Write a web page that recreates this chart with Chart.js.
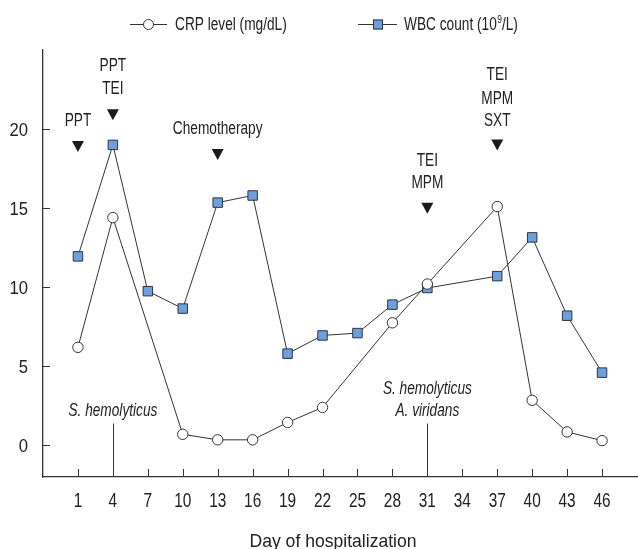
<!DOCTYPE html>
<html>
<head>
<meta charset="utf-8">
<script src="https://cdn.jsdelivr.net/npm/chart.js@4/dist/chart.umd.min.js"></script>
<style>
  html, body { margin: 0; padding: 0; background: #fff; }
  #wrap { width: 638px; height: 549px; }
</style>
</head>
<body>
<div id="wrap"><canvas id="c" width="638" height="549"></canvas></div>
<script>
// ---- data ----
const days = ['1','4','7','10','13','16','19','22','25','28','31','34','37','40','43','46'];
const crpLevel = [6.2, 14.4, null, 0.7, 0.35, 0.35, 1.45, 2.4, null, 7.75, 10.2, null, 15.1, 2.85, 0.85, 0.3];
const wbcCount = [11.95, 19.0, 9.75, 8.65, 15.35, 15.8, 5.8, 6.95, 7.1, 8.9, 9.95, null, 10.7, 13.15, 8.2, 4.6];
const yTickValues = [0, 5, 10, 15, 20];
const seriesNames = ['CRP level (mg/dL)', 'WBC count (10', '9', '/L)'];
const xTitle = 'Day of hospitalization';

// treatment annotations: category index, text lines, text y-values, triangle y-value
const treatIdx = [0, 1, 4, 10, 12];
const treatText = [['PPT'], ['PPT', 'TEI'], ['Chemotherapy'], ['TEI', 'MPM'], ['TEI', 'MPM', 'SXT']];
const treatTextY = [[20.6], [24.1, 22.6], [20.1], [18.1, 16.7], [23.5, 22.0, 20.6]];
const treatTriY = [18.9, 20.9, 18.4, 15.0, 19.0];

// culture annotations
const cultIdx = [1, 10];
const cultText = [['S. hemolyticus'], ['S. hemolyticus', 'A. viridans']];
const cultTextY = [[2.26], [3.65, 2.26]];
const cultLineTop = [1.38, 1.38];

const FONT = '"Liberation Sans", Arial, sans-serif';
const INK = '#333333';
const TXT = '#222222';
const BLUE = '#6f9fd9';

const toPts = arr => arr.map((v, i) => ({ x: i, y: v }));

// condensed text: cy = vertical centre of capitals
function ctext(ctx, str, x, cy, size, sx, align, italic) {
  ctx.save();
  ctx.font = (italic ? 'italic ' : '') + size + 'px ' + FONT;
  ctx.textAlign = align || 'center';
  ctx.textBaseline = 'alphabetic';
  ctx.translate(x, cy + size * 0.716 / 2);
  ctx.scale(sx, 1);
  ctx.fillText(str, 0, 0);
  const w = ctx.measureText(str).width * sx;
  ctx.restore();
  return w;
}

const decor = {
  id: 'decor',
  afterDatasetsDraw(chart) {
    const ctx = chart.ctx;
    const xs = chart.scales.x, ys = chart.scales.y;
    const area = chart.chartArea;
    ctx.save();
    ctx.fillStyle = TXT;
    // inward tick marks + tick labels
    ctx.strokeStyle = INK; ctx.lineWidth = 1;
    days.forEach((d, i) => {
      const px = Math.round(xs.getPixelForValue(i)) + 0.5;
      ctx.beginPath(); ctx.moveTo(px, area.bottom); ctx.lineTo(px, area.bottom - 8); ctx.stroke();
      ctext(ctx, d, xs.getPixelForValue(i), 500, 19.5, 0.79, 'center');
    });
    yTickValues.forEach(v => {
      const py = Math.round(ys.getPixelForValue(v)) + 0.5;
      ctx.beginPath(); ctx.moveTo(area.left, py); ctx.lineTo(area.left + 7, py); ctx.stroke();
      ctext(ctx, String(v), 28, ys.getPixelForValue(v), 18.5, 0.9, 'right');
    });
    // axis title
    ctext(ctx, xTitle, 333, 540, 18.5, 0.95, 'center');
    // treatment labels and triangles
    treatIdx.forEach((idx, k) => {
      const px = xs.getPixelForValue(idx);
      treatText[k].forEach((t, j) => ctext(ctx, t, px, ys.getPixelForValue(treatTextY[k][j]), 18, 0.76, 'center'));
      const ty = ys.getPixelForValue(treatTriY[k]);
      ctx.fillStyle = '#1a1a1a';
      ctx.beginPath();
      ctx.moveTo(px - 6, ty - 5.5); ctx.lineTo(px + 6, ty - 5.5); ctx.lineTo(px, ty + 5.5);
      ctx.closePath(); ctx.fill();
      ctx.fillStyle = TXT;
    });
    // culture labels and lines
    cultIdx.forEach((idx, k) => {
      const px = xs.getPixelForValue(idx);
      cultText[k].forEach((t, j) => ctext(ctx, t, px, ys.getPixelForValue(cultTextY[k][j]), 18, 0.76, 'center', true));
      const lx = Math.round(px) + 0.5;
      ctx.beginPath(); ctx.moveTo(lx, ys.getPixelForValue(cultLineTop[k])); ctx.lineTo(lx, area.bottom); ctx.stroke();
    });
    // legend
    const ly = 24.5;
    ctx.strokeStyle = INK; ctx.lineWidth = 1;
    ctx.beginPath(); ctx.moveTo(130, ly); ctx.lineTo(167, ly); ctx.stroke();
    ctx.beginPath(); ctx.arc(148.5, ly, 5, 0, Math.PI * 2);
    ctx.fillStyle = '#fff'; ctx.fill(); ctx.stroke();
    ctx.beginPath(); ctx.moveTo(358, ly); ctx.lineTo(397, ly); ctx.stroke();
    ctx.fillStyle = BLUE; ctx.fillRect(373, ly - 5, 10, 10);
    ctx.strokeStyle = '#2b3545'; ctx.strokeRect(373.5, ly - 4.5, 9, 9);
    ctx.fillStyle = TXT;
    ctext(ctx, seriesNames[0], 175, 23.5, 18, 0.76, 'left');
    let x = 404;
    x += ctext(ctx, seriesNames[1], x, 23.5, 18, 0.76, 'left');
    x += ctext(ctx, seriesNames[2], x + 0.5, 19.5, 10.5, 0.8, 'left') + 0.5;
    ctext(ctx, seriesNames[3], x, 23.5, 18, 0.76, 'left');
    ctx.restore();
  }
};

new Chart(document.getElementById('c'), {
  type: 'line',
  data: {
    datasets: [
      {
        label: seriesNames[0],
        data: toPts(crpLevel),
        borderColor: INK, borderWidth: 1,
        pointStyle: 'circle', pointRadius: 5.2,
        pointBackgroundColor: '#ffffff', pointBorderColor: INK, pointBorderWidth: 1,
        spanGaps: true, tension: 0
      },
      {
        label: 'WBC count (10⁹/L)',
        data: toPts(wbcCount),
        borderColor: INK, borderWidth: 1,
        pointStyle: 'rect', pointRadius: 6.7,
        pointBackgroundColor: BLUE, pointBorderColor: '#2b3545', pointBorderWidth: 1,
        spanGaps: true, tension: 0
      }
    ]
  },
  options: {
    responsive: false,
    animation: false,
    events: [],
    layout: { autoPadding: false, padding: { top: 50, right: 1, left: 0, bottom: 0 } },
    plugins: { legend: { display: false }, tooltip: { enabled: false } },
    scales: {
      x: {
        type: 'linear', min: -1, max: 16,
        grid: { display: false, drawTicks: false },
        border: { display: true, color: INK, width: 1.3 },
        afterBuildTicks: s => { s.ticks = days.map((d, i) => ({ value: i })); },
        afterFit: s => { s.height = 72; s.paddingLeft = 0; s.paddingRight = 0; },
        ticks: { display: false }
      },
      y: {
        min: -2, max: 25,
        grid: { display: false, drawTicks: false },
        border: { display: true, color: INK, width: 1.3 },
        afterBuildTicks: s => { s.ticks = yTickValues.map(v => ({ value: v })); },
        afterFit: s => { s.width = 43; s.paddingTop = 0; s.paddingBottom = 0; },
        ticks: { display: false }
      }
    }
  },
  plugins: [decor]
});
</script>
</body>
</html>
